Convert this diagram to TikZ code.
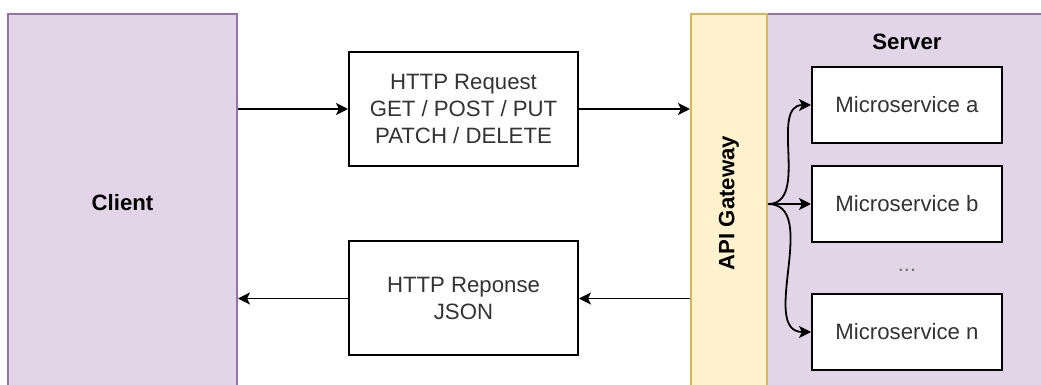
\documentclass[tikz,border=0pt]{standalone}
\usepackage{fontspec}
\setmainfont{Liberation Sans}
\usetikzlibrary{arrows.meta}
\definecolor{purpleFill}{HTML}{E1D5E7}
\definecolor{purpleLine}{HTML}{9673A6}
\definecolor{gateFill}{HTML}{FFF2CC}
\definecolor{gateLine}{HTML}{D6B656}

\begin{document}
\begin{tikzpicture}[x = 0.5pt, y = -0.5pt, font = \fontsize{11.1}{13.3}\selectfont]
	\tikzstyle{purpleStyle} = [draw = purpleLine, fill = purpleFill, line width = 1pt, inner sep = 0pt, font = \fontsize{11.1}{13.3}\selectfont\bfseries]
	\tikzstyle{gateStyle} = [draw = gateLine, fill = gateFill, line width = 1pt, inner sep = 0pt]
	\tikzstyle{msgStyle} = [draw, fill = white, line width = 1pt, align = center, text = black!80, minimum width = 114.5pt, minimum height = 57pt]
	\tikzstyle{serviceStyle} = [draw, fill = white, line width = 1pt, text = black!80, minimum width = 95pt, minimum height = 38pt]
	\tikzstyle{arrowStyle} = [-{Stealth[length = 6pt, width = 6pt, inset = 1.5pt]}, line width = 0.9pt]
	\useasboundingbox (0, 0) rectangle (1041, 385);
	% containers
	\node[purpleStyle, minimum width = 114.5pt, minimum height = 189pt] (client) at (122.5, 203) {Client};
	\node[purpleStyle, minimum width = 141.5pt, minimum height = 189pt] (server) at (908.5, 203) {};
	\node[font = \fontsize{11.1}{13.3}\selectfont\bfseries] (serverTitle) at (907, 42) {Server};
	\node[gateStyle, minimum width = 38pt, minimum height = 189pt,
		label = {[rotate = 90, font = \fontsize{11.1}{13.3}\selectfont\bfseries]center:API Gateway}] (gateway) at (729, 203) {};
	% messages
	\node[msgStyle] (request) at (463.5, 109) {HTTP Request\\GET / POST / PUT\\PATCH / DELETE};
	\node[msgStyle] (response) at (463.5, 298.5) {HTTP Reponse\\JSON};
	% services
	\node[serviceStyle] (msA) at (907, 105) {Microservice a};
	\node[serviceStyle] (msB) at (907, 204) {Microservice b};
	\node[text = black!55] (dots) at (907, 270) {...};
	\node[serviceStyle] (msN) at (907, 332) {Microservice n};
	\coordinate (fork) at (gateway.east |- msB.west);
	% edges
	\draw[arrowStyle] (client.east |- request.west) -- (request.west);
	\draw[arrowStyle] (request.east) -- (request.east -| gateway.west);
	\draw[arrowStyle] (response.east -| gateway.west) -- (response.east);
	\draw[arrowStyle] (response.west) -- (response.west -| client.east);
	\draw[arrowStyle] (fork) to[out = 0, in = 180] (msA.west);
	\draw[arrowStyle] (fork) -- (msB.west);
	\draw[arrowStyle] (fork) to[out = 0, in = 180] (msN.west);
\end{tikzpicture}
\end{document}
